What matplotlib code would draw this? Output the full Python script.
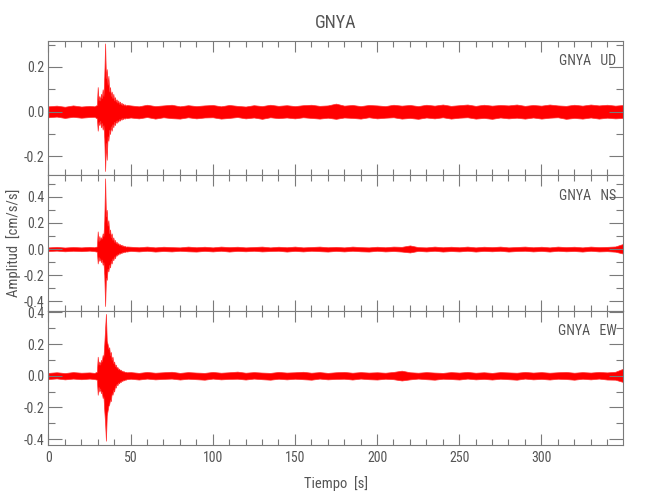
import matplotlib
matplotlib.use('Agg')
import matplotlib.pyplot as plt
from matplotlib.ticker import MultipleLocator, FormatStrFormatter

plt.rcParams['font.family'] = ['Roboto Condensed', 'DejaVu Sans Condensed', 'Liberation Sans', 'DejaVu Sans']

# tiempos (s) donde se leyeron las envolventes
t_ini = [0, 5, 10, 15, 20, 25, 28]
t_evento = [29.5, 30, 30.5, 31, 31.5, 32, 32.5, 33, 33.5, 34, 34.5, 35, 35.5,
            36, 36.5, 37, 37.5, 38, 38.5, 39, 39.5, 40, 40.5, 41, 41.5, 42, 42.5,
            43, 43.5, 44, 44.5, 45, 45.5, 46, 46.5, 47, 47.5]
t_fondo = [50, 55, 60, 65, 70, 75, 80, 85, 90, 95,
           100, 105, 110, 115, 120, 125, 130, 135, 140, 145,
           150, 155, 160, 165, 170, 175, 180, 185, 190, 195,
           200, 205, 210, 215, 220, 225, 230, 235, 240, 245,
           250, 255, 260, 265, 270, 275, 280, 285, 290, 295,
           300, 305, 310, 315, 320, 325, 330, 335, 340, 345, 349.9]
tiempo = t_ini + t_evento + t_fondo

# envolvente superior / inferior de cada componente (cm/s/s)
ud_max = [0.024, 0.027, 0.022, 0.028, 0.023, 0.026, 0.024,
          0.03, 0.11, 0.05, 0.07, 0.05, 0.08, 0.06, 0.10, 0.07, 0.16, 0.305, 0.15, 0.19,
          0.12, 0.16, 0.09, 0.11, 0.07, 0.09, 0.06, 0.08, 0.05, 0.065, 0.045, 0.055, 0.04,
          0.05, 0.035, 0.045, 0.032, 0.04, 0.03, 0.036, 0.028, 0.033, 0.027, 0.03,
          0.028, 0.024, 0.031, 0.025, 0.028, 0.031, 0.024, 0.029, 0.025, 0.028,
          0.03, 0.024, 0.03, 0.026, 0.023, 0.029, 0.025, 0.031, 0.026, 0.029,
          0.025, 0.029, 0.031, 0.026, 0.028, 0.036, 0.027, 0.03, 0.025, 0.03,
          0.028, 0.025, 0.031, 0.027, 0.03, 0.025, 0.031, 0.027, 0.032, 0.026,
          0.029, 0.032, 0.026, 0.031, 0.027, 0.03, 0.028, 0.032, 0.026, 0.03,
          0.027, 0.032, 0.028, 0.026, 0.031, 0.027, 0.032, 0.028, 0.031, 0.027, 0.03]
ud_min = [-0.025, -0.022, -0.028, -0.023, -0.027, -0.024, -0.023,
          -0.03, -0.085, -0.045, -0.06, -0.04, -0.07, -0.05, -0.08, -0.06, -0.12, -0.265, -0.14, -0.215,
          -0.11, -0.13, -0.08, -0.10, -0.065, -0.085, -0.055, -0.07, -0.045, -0.06, -0.04, -0.05, -0.038,
          -0.045, -0.033, -0.04, -0.03, -0.036, -0.028, -0.033, -0.027, -0.031, -0.026, -0.029,
          -0.026, -0.03, -0.024, -0.031, -0.025, -0.029, -0.031, -0.025, -0.03, -0.026,
          -0.025, -0.031, -0.028, -0.024, -0.03, -0.026, -0.032, -0.025, -0.029, -0.026,
          -0.03, -0.025, -0.028, -0.031, -0.027, -0.032, -0.026, -0.028, -0.031, -0.025,
          -0.03, -0.027, -0.025, -0.031, -0.028, -0.032, -0.026, -0.03, -0.025, -0.031,
          -0.027, -0.025, -0.031, -0.028, -0.032, -0.026, -0.03, -0.027, -0.031, -0.026,
          -0.031, -0.027, -0.025, -0.032, -0.028, -0.031, -0.026, -0.031, -0.027, -0.03, -0.028]

ns_max = [0.013, 0.017, 0.012, 0.016, 0.013, 0.017, 0.014,
          0.02, 0.135, 0.06, 0.10, 0.07, 0.09, 0.08, 0.12, 0.10, 0.22, 0.54, 0.25, 0.30,
          0.18, 0.22, 0.12, 0.15, 0.09, 0.12, 0.07, 0.09, 0.055, 0.07, 0.045, 0.055, 0.04,
          0.045, 0.032, 0.038, 0.028, 0.033, 0.024, 0.028, 0.02, 0.024, 0.018, 0.02,
          0.018, 0.014, 0.019, 0.013, 0.018, 0.015, 0.013, 0.019, 0.014, 0.018,
          0.013, 0.019, 0.015, 0.018, 0.013, 0.016, 0.019, 0.013, 0.018, 0.014,
          0.019, 0.013, 0.016, 0.019, 0.014, 0.017, 0.013, 0.019, 0.015, 0.013,
          0.018, 0.014, 0.019, 0.017, 0.028, 0.015, 0.013, 0.019, 0.014, 0.018,
          0.014, 0.019, 0.013, 0.018, 0.015, 0.019, 0.013, 0.016, 0.019, 0.014,
          0.018, 0.013, 0.019, 0.015, 0.018, 0.013, 0.019, 0.015, 0.017, 0.02, 0.04]
ns_min = [-0.015, -0.012, -0.017, -0.013, -0.016, -0.012, -0.016,
          -0.02, -0.11, -0.06, -0.09, -0.07, -0.10, -0.08, -0.12, -0.10, -0.20, -0.435, -0.22, -0.235,
          -0.15, -0.17, -0.12, -0.14, -0.09, -0.11, -0.07, -0.085, -0.055, -0.07, -0.045, -0.05, -0.038,
          -0.042, -0.03, -0.035, -0.026, -0.03, -0.022, -0.025, -0.019, -0.022, -0.017, -0.019,
          -0.014, -0.018, -0.013, -0.019, -0.015, -0.018, -0.013, -0.017, -0.019, -0.014,
          -0.018, -0.013, -0.019, -0.014, -0.017, -0.013, -0.018, -0.015, -0.013, -0.019,
          -0.014, -0.018, -0.013, -0.016, -0.019, -0.014, -0.018, -0.013, -0.017, -0.019,
          -0.013, -0.018, -0.015, -0.019, -0.026, -0.014, -0.018, -0.013, -0.019, -0.015,
          -0.018, -0.013, -0.019, -0.014, -0.017, -0.013, -0.019, -0.015, -0.013, -0.018,
          -0.014, -0.019, -0.013, -0.017, -0.015, -0.019, -0.013, -0.018, -0.016, -0.02, -0.035]

ew_max = [0.018, 0.022, 0.017, 0.023, 0.019, 0.021, 0.018,
          0.025, 0.12, 0.07, 0.09, 0.07, 0.10, 0.09, 0.13, 0.12, 0.20, 0.30, 0.39, 0.22,
          0.20, 0.17, 0.18, 0.13, 0.15, 0.10, 0.12, 0.08, 0.09, 0.06, 0.07, 0.05, 0.055,
          0.04, 0.045, 0.035, 0.038, 0.03, 0.032, 0.026, 0.028, 0.023, 0.025, 0.022,
          0.023, 0.018, 0.024, 0.019, 0.022, 0.025, 0.018, 0.023, 0.02, 0.018,
          0.024, 0.019, 0.022, 0.026, 0.019, 0.023, 0.02, 0.018, 0.024, 0.02,
          0.022, 0.025, 0.019, 0.023, 0.018, 0.022, 0.024, 0.019, 0.023, 0.02,
          0.022, 0.019, 0.024, 0.032, 0.022, 0.019, 0.023, 0.02, 0.018, 0.023,
          0.02, 0.024, 0.019, 0.022, 0.018, 0.023, 0.021, 0.019, 0.024, 0.02,
          0.023, 0.019, 0.022, 0.024, 0.019, 0.023, 0.02, 0.024, 0.021, 0.025, 0.045]
ew_min = [-0.021, -0.017, -0.023, -0.018, -0.022, -0.018, -0.021,
          -0.025, -0.12, -0.07, -0.10, -0.08, -0.11, -0.10, -0.14, -0.13, -0.22, -0.30, -0.41, -0.25,
          -0.22, -0.19, -0.18, -0.15, -0.16, -0.11, -0.12, -0.09, -0.10, -0.065, -0.075, -0.05, -0.06,
          -0.042, -0.048, -0.036, -0.04, -0.03, -0.033, -0.027, -0.029, -0.024, -0.025, -0.022,
          -0.019, -0.024, -0.018, -0.023, -0.02, -0.018, -0.024, -0.019, -0.022, -0.025,
          -0.018, -0.023, -0.02, -0.019, -0.024, -0.018, -0.022, -0.025, -0.019, -0.023,
          -0.019, -0.022, -0.025, -0.018, -0.023, -0.02, -0.019, -0.024, -0.018, -0.022,
          -0.024, -0.019, -0.022, -0.03, -0.023, -0.018, -0.022, -0.025, -0.019, -0.021,
          -0.024, -0.018, -0.023, -0.02, -0.024, -0.019, -0.022, -0.025, -0.018, -0.023,
          -0.02, -0.024, -0.019, -0.021, -0.025, -0.019, -0.023, -0.018, -0.024, -0.025, -0.04]

componentes = ['UD', 'NS', 'EW']
estacion = 'GNYA'
limites_y = [(-0.283, 0.317), (-0.473, 0.564), (-0.437, 0.41)]

gris = '#7a7a7a'
gris_txt = '#555555'

fig = plt.figure(figsize=(6.5, 5), dpi=100)
posiciones = [[0.0745, 0.650, 0.8845, 0.2685],
              [0.0745, 0.378, 0.8845, 0.2715],
              [0.0745, 0.110, 0.8845, 0.2685]]
envolventes = [(ud_max, ud_min), (ns_max, ns_min), (ew_max, ew_min)]

ejes = []
for i, comp in enumerate(componentes):
    ax = fig.add_axes(posiciones[i])
    sup, inf = envolventes[i]
    ax.fill_between(tiempo, inf, sup, color='#ff0000', lw=0.5, edgecolor='#ff3030')
    ax.set_xlim(0, 349.9)
    ax.set_ylim(*limites_y[i])
    ax.set_axisbelow(False)
    ax.xaxis.set_major_locator(MultipleLocator(50))
    ax.xaxis.set_minor_locator(MultipleLocator(10))
    ax.yaxis.set_major_locator(MultipleLocator(0.2))
    ax.yaxis.set_minor_locator(MultipleLocator(0.1))
    ax.yaxis.set_major_formatter(FormatStrFormatter('%.1f'))
    ax.tick_params(which='both', direction='in', top=True, right=True,
                   color=gris, labelcolor=gris_txt, labelsize=10, width=0.8)
    ax.tick_params(axis='y', which='major', length=10, pad=3)
    ax.tick_params(axis='y', which='minor', length=5)
    ax.tick_params(axis='x', which='major', length=8, pad=4)
    ax.tick_params(axis='x', which='minor', length=4)
    for s in ax.spines.values():
        s.set_color(gris)
        s.set_linewidth(0.8)
    if i < 2:
        ax.tick_params(axis='x', labelbottom=False)
    ax.text(0.988, 0.85, f'{estacion}   {comp}', transform=ax.transAxes,
            ha='right', va='center', fontsize=10, color=gris_txt)
    ejes.append(ax)

ejes[1].set_ylabel('Amplitud  [cm/s/s]', fontsize=10.5, color=gris_txt, labelpad=2)
ejes[2].set_xlabel('Tiempo  [s]', fontsize=10.5, color=gris_txt, labelpad=8)
fig.text(0.516, 0.953, estacion, ha='center', va='center', fontsize=13, color=gris_txt)

fig.savefig('out.png', dpi=100)
